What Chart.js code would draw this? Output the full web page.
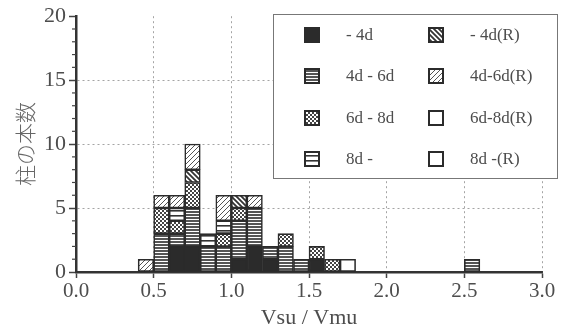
<!DOCTYPE html>
<html>
<head>
<meta charset="utf-8">
<script src="https://cdn.jsdelivr.net/npm/chart.js@4.4.1/dist/chart.umd.min.js"></script>
<style>
  body { margin: 0; background: #fff; }
  #wrap { width: 563px; height: 334px; }
</style>
</head>
<body>
<div id="wrap"><canvas id="chart"></canvas></div>
<script>
// lower edge of each 0.1 wide bin of Vsu/Vmu
const bins = [0.4, 0.5, 0.6, 0.7, 0.8, 0.9, 1.0, 1.1, 1.2, 1.3, 1.4, 1.5, 1.6, 1.7, 2.5];

// number of columns per bin, by group
const lt4d   = [0, 0, 2, 2, 0, 0, 1, 2, 1, 0, 0, 1, 0, 0, 0];
const d4to6  = [0, 3, 1, 3, 2, 2, 3, 3, 1, 2, 1, 0, 0, 0, 1];
const d6to8  = [0, 2, 1, 2, 0, 1, 1, 0, 0, 1, 0, 1, 1, 0, 0];
const gt8d   = [0, 0, 1, 0, 1, 1, 0, 0, 0, 0, 0, 0, 0, 0, 0];
const lt4dR  = [0, 0, 0, 1, 0, 0, 1, 0, 0, 0, 0, 0, 0, 0, 0];
const d4to6R = [1, 1, 1, 2, 0, 2, 0, 1, 0, 0, 0, 0, 0, 0, 0];
const d6to8R = [0, 0, 0, 0, 0, 0, 0, 0, 0, 0, 0, 0, 0, 1, 0];
const gt8dR  = [0, 0, 0, 0, 0, 0, 0, 0, 0, 0, 0, 0, 0, 0, 0];

const labels = ["- 4d", "4d - 6d", "6d - 8d", "8d -", "- 4d(R)", "4d-6d(R)", "6d-8d(R)", "8d -(R)"];
const yTicks = [0, 5, 10, 15, 20];
const xTicks = [0.0, 0.5, 1.0, 1.5, 2.0, 2.5, 3.0];

const ink = "#2b2b2b";
const textGray = "#4d4d4d";

function makePattern(size, draw) {
  const c = document.createElement("canvas");
  c.width = c.height = size;
  const g = c.getContext("2d");
  g.fillStyle = "#fff";
  g.fillRect(0, 0, size, size);
  draw(g, size);
  return g.createPattern(c, "repeat");
}

const fills = [
  ink,
  // dense horizontal stripes
  makePattern(3, (g) => { g.fillStyle = "#555"; g.fillRect(0, 1, 3, 2); }),
  // checker dots
  makePattern(4, (g) => { g.fillStyle = "#444"; g.fillRect(0, 0, 2, 2); g.fillRect(2, 2, 2, 2); }),
  // wide horizontal stripes
  makePattern(5, (g) => { g.fillStyle = "#333"; g.fillRect(0, 0, 5, 1.6); }),
  // back diagonal
  makePattern(5, (g, s) => {
    g.strokeStyle = "#333"; g.lineWidth = 1.8;
    g.beginPath();
    g.moveTo(-1, -1); g.lineTo(s + 1, s + 1);
    g.moveTo(s - 1, -1); g.lineTo(s + 1, 1);
    g.moveTo(-1, s - 1); g.lineTo(1, s + 1);
    g.stroke();
  }),
  // forward diagonal
  makePattern(5, (g, s) => {
    g.strokeStyle = "#555"; g.lineWidth = 1;
    g.beginPath();
    g.moveTo(-1, s + 1); g.lineTo(s + 1, -1);
    g.moveTo(-1, 1); g.lineTo(1, -1);
    g.moveTo(s - 1, s + 1); g.lineTo(s + 1, s - 1);
    g.stroke();
  }),
  "#fff",
  "#fff"
];

const series = [lt4d, d4to6, d6to8, gt8d, lt4dR, d4to6R, d6to8R, gt8dR];

const datasets = series.map((counts, k) => ({
  label: labels[k],
  data: bins
    .map((b, i) => ({ x: +(b + 0.05).toFixed(2), y: counts[i] }))
    .filter((p) => p.y > 0),
  backgroundColor: fills[k],
  borderColor: ink,
  borderWidth: 1.6,
  borderSkipped: false,
  barPercentage: 1,
  categoryPercentage: 1
}));

// small ticks at every column count on the y axis
const minorTicks = {
  id: "minorTicks",
  afterDraw(chart) {
    const { ctx, chartArea, scales } = chart;
    ctx.save();
    ctx.strokeStyle = "#444";
    ctx.lineWidth = 1.2;
    for (let v = 1; v < 20; v++) {
      if (v % 5 === 0) continue;
      const y = scales.y.getPixelForValue(v);
      ctx.beginPath();
      ctx.moveTo(chartArea.left - 4, y);
      ctx.lineTo(chartArea.left, y);
      ctx.stroke();
    }
    ctx.restore();
  }
};

// boxed legend with the fill swatches, two columns
const boxLegend = {
  id: "boxLegend",
  afterDraw(chart) {
    const ctx = chart.ctx;
    ctx.save();
    ctx.fillStyle = "#fff";
    ctx.fillRect(273, 14, 284, 164);
    ctx.strokeStyle = "#777";
    ctx.lineWidth = 1;
    ctx.strokeRect(273.5, 14.5, 284, 164);

    const cols = [{ mx: 312, tx: 346 }, { mx: 436, tx: 470 }];
    const rows = [35, 76, 118, 159];
    ctx.font = "17px 'Liberation Serif', serif";
    ctx.textBaseline = "middle";
    ctx.textAlign = "left";
    chart.data.datasets.forEach((ds, k) => {
      const col = cols[Math.floor(k / 4)];
      const y = rows[k % 4];
      ctx.fillStyle = ds.backgroundColor;
      ctx.fillRect(col.mx - 8, y - 8, 16, 16);
      ctx.strokeStyle = ink;
      ctx.lineWidth = 2;
      ctx.strokeRect(col.mx - 7, y - 7, 14, 14);
      ctx.fillStyle = textGray;
      ctx.fillText(ds.label, col.tx, y + 1);
    });
    ctx.restore();
  }
};

const ctx = document.getElementById("chart").getContext("2d");
const chart = new Chart(ctx, {
  type: "bar",
  data: { datasets },
  plugins: [minorTicks, boxLegend],
  options: {
    responsive: true,
    maintainAspectRatio: false,
    animation: false,
    devicePixelRatio: 1,
    layout: { padding: { left: 0, right: 21, top: 14, bottom: 3 } },
    plugins: {
      legend: { display: false },
      tooltip: { enabled: false }
    },
    scales: {
      x: {
        type: "linear",
        stacked: true,
        offset: false,
        min: 0,
        max: 3,
        afterBuildTicks: (s) => { s.ticks = xTicks.map((v) => ({ value: v })); },
        afterFit: (s) => { s.height = 59; },
        ticks: {
          padding: 1,
          color: textGray,
          font: { family: "'Liberation Serif', serif", size: 21 },
          maxRotation: 0,
          callback: (v) => Number(v).toFixed(1)
        },
        grid: {
          offset: false,
          color: (c) => (c.tick && c.tick.value === 0 ? "transparent" : "#9a9a9a"),
          lineWidth: 0.9,
          tickLength: 6,
          tickColor: "#444",
          tickWidth: 1.5
        },
        border: { display: true, color: "#333", width: 2.5, dash: [2, 3] },
        title: {
          display: true,
          text: "Vsu / Vmu",
          color: textGray,
          font: { family: "'Liberation Serif', serif", size: 22 },
          padding: { top: 0, bottom: 0 }
        }
      },
      y: {
        stacked: true,
        min: 0,
        max: 20,
        afterBuildTicks: (s) => { s.ticks = yTicks.map((v) => ({ value: v })); },
        afterFit: (s) => { s.width = 76; },
        ticks: {
          padding: 3,
          color: textGray,
          font: { family: "'Liberation Serif', serif", size: 22 }
        },
        grid: {
          color: (c) => (c.tick && (c.tick.value === 0 || c.tick.value === 20) ? "transparent" : "#9a9a9a"),
          lineWidth: 0.9,
          tickLength: 7,
          tickColor: "#444",
          tickWidth: 1.5
        },
        border: { display: true, color: "#333", width: 2.5, dash: [2, 3] },
        title: {
          display: true,
          text: "柱の本数",
          color: "#666",
          font: { family: "'Noto Sans CJK JP', sans-serif", size: 21, weight: "300" },
          padding: { top: 12, bottom: 0 }
        }
      }
    }
  }
});
</script>
</body>
</html>
